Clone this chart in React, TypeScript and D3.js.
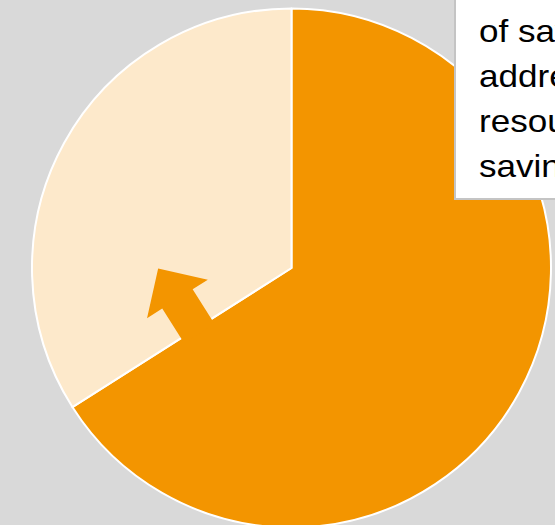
import React from "react";
import * as d3 from "d3";

const categories = ["Share A", "Share B"];
const values = [66, 34];
const colors = ["#f39500", "#fde9cb"];
const noteLines = ["of savings", "address", "resources", "savings"];

const W = 555;
const H = 525;
const cx = 291.5;
const cy = 268;
const R = 259.5;

export default function App() {
  const pie = d3.pie<number>().sort(null).value((d) => d);
  const arcs = pie(values);
  const arcGen = d3.arc<d3.PieArcDatum<number>>().innerRadius(0).outerRadius(R);

  // Arrow anchored on the boundary between the two slices
  const a = arcs[0].endAngle;
  const u = [Math.sin(a), -Math.cos(a)]; // along divider outward
  const n = [u[1], -u[0]];
  const nn = n[1] > 0 ? [-n[0], -n[1]] : n; // normal into the light slice
  const baseT = 0.435 * R;
  const bx = baseT * u[0];
  const by = baseT * u[1];
  const pt = (along: number, out: number) =>
    [bx + along * u[0] + out * nn[0], by + along * u[1] + out * nn[1]].join(",");
  const sw = 18;
  const hw = 36;
  const headBase = 35;
  const tip = 71;
  const arrow = [
    pt(-sw, -6),
    pt(-sw, headBase),
    pt(-hw, headBase),
    pt(0, tip),
    pt(hw, headBase),
    pt(sw, headBase),
    pt(sw, -6),
  ].join(" ");

  return (
    <div style={{ position: "fixed", left: 0, top: 0, width: W, height: H }}>
      <svg width={W} height={H} style={{ display: "block" }}>
        <rect x={0} y={0} width={W} height={H} fill="#d9d9d9" />
        <g transform={`translate(${cx},${cy})`}>
          {arcs.map((d, i) => (
            <path
              key={categories[i]}
              d={arcGen(d) || ""}
              fill={colors[i]}
              stroke="#ffffff"
              strokeWidth={2}
              strokeLinejoin="round"
            />
          ))}
          <polygon points={arrow} fill={colors[0]} />
        </g>
        <rect x={455} y={-10} width={200} height={209} fill="#ffffff" stroke="#c4c4c4" strokeWidth={2} />
        <g fontFamily="'Liberation Sans', Arial, sans-serif" fontSize={30.5} fill="#000000">
          {noteLines.map((t, i) => (
            <text key={i} transform={`translate(479,${42 + i * 45}) scale(1.15,1)`}>
              {t}
            </text>
          ))}
        </g>
      </svg>
    </div>
  );
}
